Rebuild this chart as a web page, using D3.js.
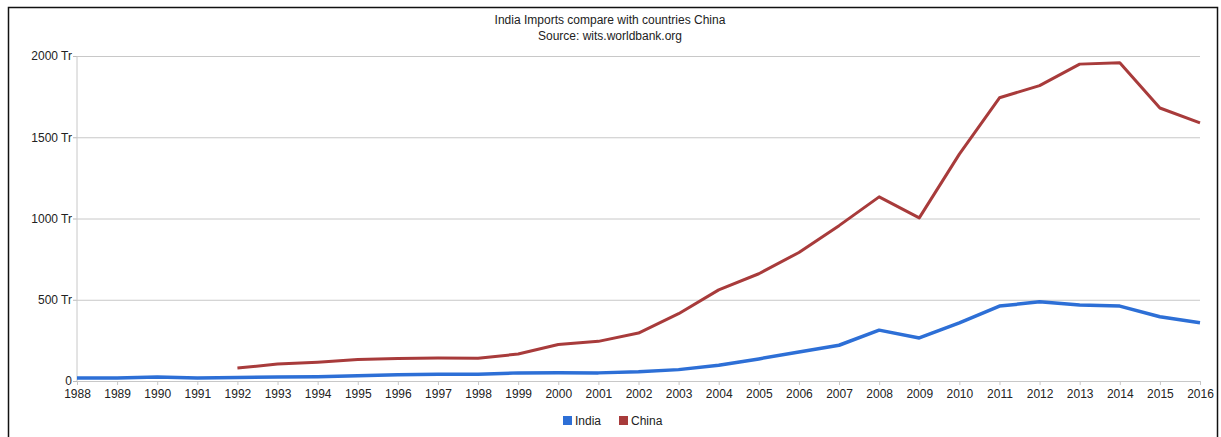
<!DOCTYPE html>
<html>
<head>
<meta charset="utf-8">
<script src="https://cdn.jsdelivr.net/npm/d3@7"></script>
<style>
  body { margin: 0; background: #fff; }
  svg text { font-family: "Liberation Sans", Arial, sans-serif; fill: #222; }
</style>
</head>
<body>
<svg id="chart"></svg>
<script>
// Dữ liệu nhập khẩu
const years = d3.range(1988, 2017);
const india = [18, 18, 24, 19, 22, 24, 26, 33, 39, 41, 42, 50, 51, 50, 57,
               70, 97, 136, 179, 220, 313, 265, 358, 461, 487, 467, 461, 395, 358];
const chinaStart = 1992;
const china = [80, 104, 116, 132, 139, 142, 140, 166, 225, 244, 295,
               414, 561, 660, 791, 956, 1133, 1004, 1396, 1743, 1818, 1950, 1959, 1680, 1588];
const yTicks = [0, 500, 1000, 1500, 2000];
const seriesNames = ['India', 'China'];
const seriesColors = ['#2d6fd6', '#a83b3b'];

const width = 1221, height = 437;
const margin = { top: 56, right: 21, bottom: 56, left: 77 };

const svg = d3.select('#chart')
    .attr('width', width)
    .attr('height', height);

// Khung ngoài
svg.append('rect')
    .attr('x', 8.5).attr('y', 7.5)
    .attr('width', 1209).attr('height', 440)
    .attr('fill', 'none')
    .attr('stroke', '#111')
    .attr('stroke-width', 1.5);

// Tiêu đề
svg.append('text')
    .attr('x', 610).attr('y', 24)
    .attr('text-anchor', 'middle')
    .attr('font-size', 12)
    .text('India Imports compare with countries China');
svg.append('text')
    .attr('x', 610).attr('y', 40)
    .attr('text-anchor', 'middle')
    .attr('font-size', 12)
    .text('Source: wits.worldbank.org');

const x = d3.scaleLinear()
    .domain([1988, 2016])
    .range([margin.left, width - margin.right]);
const y = d3.scaleLinear()
    .domain([0, 2000])
    .range([height - margin.bottom, margin.top]);

// Lưới ngang và nhãn trục y
const yAxis = svg.append('g')
    .attr('transform', `translate(${margin.left},0)`)
    .call(d3.axisLeft(y)
        .tickValues(yTicks)
        .tickSize(-(width - margin.right - margin.left))
        .tickPadding(4)
        .tickFormat(d => d === 0 ? '0' : `${d} Tr`));
yAxis.select('.domain').remove();
yAxis.selectAll('.tick line').attr('stroke', '#c8c8c8');
yAxis.selectAll('.tick').append('line')
    .attr('x1', -4).attr('x2', 0)
    .attr('stroke', '#bbb');
yAxis.selectAll('.tick text')
    .attr('font-size', 12)
    .attr('x', -5)
    .style('font-family', '"Liberation Sans", Arial, sans-serif')
    .style('fill', '#222');

// Trục x
const xAxis = svg.append('g')
    .attr('transform', `translate(0,${height - margin.bottom})`)
    .call(d3.axisBottom(x)
        .tickValues(years)
        .tickSize(4)
        .tickPadding(4)
        .tickFormat(d3.format('d')));
xAxis.select('.domain').attr('stroke', '#c8c8c8');
xAxis.selectAll('.tick line').attr('stroke', '#c8c8c8');
xAxis.selectAll('.tick text')
    .attr('font-size', 12)
    .style('font-family', '"Liberation Sans", Arial, sans-serif')
    .style('fill', '#222');

// Trục y dọc
svg.append('line')
    .attr('x1', margin.left).attr('x2', margin.left)
    .attr('y1', y(2000)).attr('y2', y(0))
    .attr('stroke', '#c8c8c8');

const line = d3.line()
    .x(d => x(d.year))
    .y(d => y(d.value));

const indiaData = years.map((yr, i) => ({ year: yr, value: india[i] }));
const chinaData = china.map((v, i) => ({ year: chinaStart + i, value: v }));

svg.append('path')
    .datum(chinaData)
    .attr('d', line)
    .attr('fill', 'none')
    .attr('stroke', seriesColors[1])
    .attr('stroke-width', 3)
    .attr('stroke-linejoin', 'round');

svg.append('path')
    .datum(indiaData)
    .attr('d', line)
    .attr('fill', 'none')
    .attr('stroke', seriesColors[0])
    .attr('stroke-width', 3.5)
    .attr('stroke-linejoin', 'round');

// Chú giải
const legendX = [563, 619];
const legend = svg.append('g');
seriesNames.forEach((name, i) => {
    legend.append('rect')
        .attr('x', legendX[i]).attr('y', 416)
        .attr('width', 9).attr('height', 9)
        .attr('fill', seriesColors[i]);
    legend.append('text')
        .attr('x', legendX[i] + 12).attr('y', 425)
        .attr('font-size', 12)
        .text(name);
});
</script>
</body>
</html>
